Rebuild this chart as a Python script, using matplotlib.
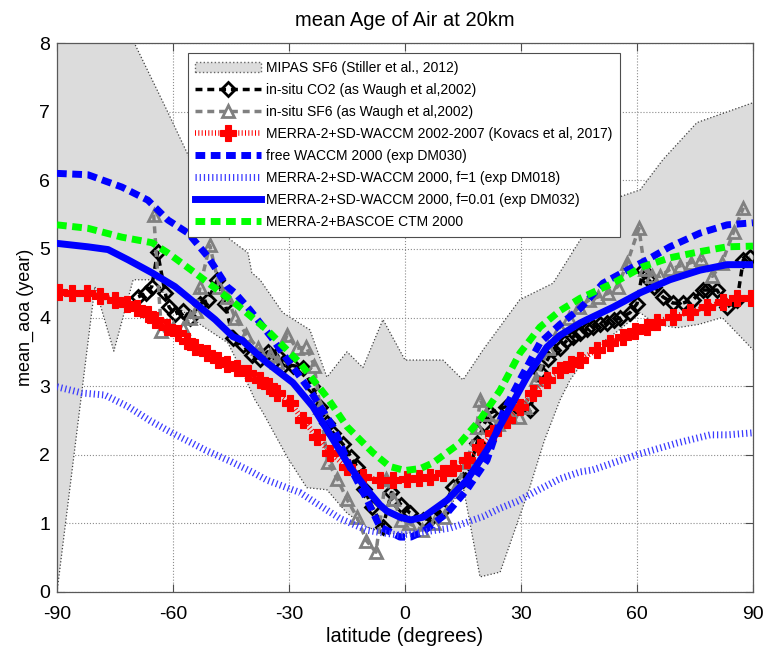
import numpy as np
import matplotlib
matplotlib.use('Agg')
import matplotlib.pyplot as plt
import matplotlib.patches as mpatches
from matplotlib.lines import Line2D

plt.rcParams['font.family'] = ['Liberation Sans', 'DejaVu Sans']
plt.rcParams['axes.unicode_minus'] = False

# MIPAS SF6 range (upper / lower envelope)
mipas_up_lat = [-90, -70, -62, -53, -46, -40.6, -39.6, -37.5, -31.6, -24.6, -20.2, -15,
                -10.9, -5.7, 0, 9.8, 15, 20.2, 29.7, 38.3, 45.3, 55.6, 60.8, 66.7, 75.5, 90]
mipas_up = [8.0, 8.0, 7.07, 6.0, 5.17, 4.94, 4.65, 4.55, 4.07, 3.82, 3.13, 3.5,
            3.27, 3.97, 3.38, 3.38, 3.09, 3.53, 4.26, 4.5, 5.13, 5.76, 5.86, 6.3, 6.84, 7.13]
mipas_lo_lat = [-90, -80.2, -75.3, -70.3, -65.4, -60, -53, -45.8, -42, -38.8, -36.7, -30.5,
                -25.4, -20.2, -15, -10, -5, 0, 5, 10, 15, 19.4, 24.6, 32.3, 36, 40.1,
                42.7, 46, 50, 55, 60.8, 65, 70.3, 76, 82, 90]
mipas_lo = [0, 4.45, 3.51, 4.55, 4.55, 4.2, 3.9, 3.63, 3.2, 2.8, 2.61, 1.97,
            1.52, 1.49, 1.15, 0.95, 0.85, 0.85, 0.9, 1.1, 1.55, 0.22, 0.29, 1.53, 2.2, 2.8,
            3.09, 3.35, 3.6, 3.8, 4.07, 3.9, 3.85, 3.9, 4.0, 3.53]

# in-situ CO2
co2_lat = [-69, -67, -65.5, -64, -62, -61, -59.5, -57.5, -55.5, -53, -51, -48.5, -46.5,
           -44.5, -42, -39.5, -37.5, -35.5, -33, -31.5, -29, -26.5, -24, -22, -20.2, -18.6,
           -16, -14, -12.4, -10.5, -8.5, -5.7, -3.5, -1, 1.3, 4.7, 7, 9.8, 12.4, 15, 17,
           18.6, 20.5, 22, 26, 29, 32.3, 34.9, 37, 38.3, 40.1, 41.9, 43.5, 45.3, 47, 48.6,
           50.5, 52.2, 54, 55.6, 58.2, 60, 61.5, 63, 64.5, 66.7, 69.3, 71.9, 74.5, 77, 78.1,
           80.7, 83.3, 85.9, 87.5, 89.2]
co2 = [4.3, 4.35, 4.45, 4.95, 4.35, 4.15, 4.05, 4.1, 4.0, 4.2, 4.25, 4.55, 4.2,
       3.7, 3.6, 3.45, 3.4, 3.5, 3.45, 3.3, 3.3, 3.27, 3.0, 2.7, 2.46, 2.32,
       2.15, 1.97, 1.82, 1.5, 1.24, 0.95, 1.45, 1.27, 1.15, 1.05, 1.09, 1.2, 1.53, 1.63, 1.85,
       2.17, 2.45, 2.61, 2.7, 2.7, 2.65, 3.2, 3.4, 3.53, 3.55, 3.67, 3.72, 3.78, 3.83, 3.86,
       3.9, 3.92, 3.96, 3.99, 4.07, 4.2, 4.69, 4.55, 4.45, 4.3, 4.21, 4.21, 4.26, 4.4, 4.4,
       4.4, 4.15, 4.26, 4.84, 4.88]

# in-situ SF6
sf6_lat = [-65, -63, -60, -57.5, -55.5, -54, -53, -50.5, -48, -46, -44, -41, -38, -35, -33,
           -30.5, -28, -25.5, -23.5, -22, -20, -17.5, -15, -12.5, -10, -7.5, -5, -3, -1, 1,
           4.5, 7.5, 10, 13, 16, 18.5, 19.5, 21, 24, 27, 29.5, 31, 34, 37, 40, 42.5, 45,
           47.5, 50, 52.5, 55, 57.5, 60.5, 62, 64, 66, 68.5, 71, 74, 76.5, 79.5, 82, 85, 87.5]
sf6 = [5.5, 3.8, 3.85, 3.85, 4.0, 4.1, 4.45, 5.05, 4.45, 4.3, 4.0, 3.75, 3.55, 3.45, 3.35,
       3.75, 3.55, 3.57, 3.3, 2.7, 1.9, 1.65, 1.35, 1.1, 0.75, 0.58, 1.65, 1.35, 1.05, 1.0,
       0.9, 1.0, 1.1, 1.5, 1.9, 2.4, 2.8, 2.6, 2.45, 2.6, 2.55, 2.7, 3.1, 3.55, 3.85, 4.0, 4.15,
       4.25, 4.3, 4.35, 4.45, 4.8, 5.3, 4.7, 4.6, 4.6, 4.7, 4.75, 4.8, 4.85, 4.6, 4.8, 5.25, 5.6]

# MERRA-2 + SD-WACCM 2002-2007 (Kovacs et al, 2017)
kov_lat = [-89.5, -86, -82.2, -78.9, -75, -72, -69.3, -66.5, -64.7, -61.6, -58.7, -56.5,
           -54.3, -51.2, -48.4, -46, -43.4, -40.6, -37.5, -35.3, -33.1, -29.7, -26.4, -22.8,
           -19.4, -15, -10.9, -6.5, -3.1, 0.5, 3.5, 6.5, 9.8, 12.4, 16, 19.4, 22.8, 26.4,
           29.7, 33.1, 36.7, 40.1, 43, 45.3, 49.6, 53, 56.4, 59.5, 62.6, 65.2, 69.3, 73.7,
           78.1, 82.2, 85.9, 89.5]
kov = [4.37, 4.36, 4.36, 4.31, 4.26, 4.2, 4.14, 4.05, 3.97, 3.86, 3.78, 3.66,
       3.57, 3.48, 3.38, 3.32, 3.27, 3.19, 3.09, 3.0, 2.9, 2.76, 2.51, 2.26,
       2.03, 1.82, 1.68, 1.63, 1.63, 1.65, 1.66, 1.68, 1.73, 1.81, 1.92, 2.11, 2.32, 2.51,
       2.7, 2.9, 3.09, 3.24, 3.32, 3.38, 3.53, 3.63, 3.72, 3.8, 3.86, 3.94, 4.01, 4.08,
       4.15, 4.23, 4.28, 4.28]

# free WACCM 2000 (DM030)
free_lat = [-90, -82, -73.2, -66.5, -61.3, -56.1, -50.9, -46, -44, -40.1, -34.4, -32.3,
            -24.6, -18.6, -14.2, -9.8, -6.5, -4.7, -1.3, 1.5, 4.7, 10.9, 16, 21.2, 25.3,
            29.7, 34.9, 40.1, 45.3, 51.2, 57.4, 62.6, 68.5, 76.3, 83.3, 90]
free = [6.1, 6.08, 5.9, 5.71, 5.42, 5.23, 4.88, 4.45, 4.36, 4.11, 3.7, 3.53,
        2.94, 2.41, 1.82, 1.34, 0.95, 0.9, 0.8, 0.8, 0.88, 1.15, 1.49, 1.92, 2.61,
        3.09, 3.63, 3.9, 4.13, 4.5, 4.69, 4.84, 5.03, 5.23, 5.35, 5.38]

# MERRA-2 + SD-WACCM 2000, f=1 (DM018)
f1_lat = [-90, -83.5, -77.6, -71.6, -66, -60.3, -51.7, -45, -39.6, -35.7, -27.2, -16.8,
          -9.8, -5.7, -1.3, 3.1, 11.6, 14.2, 20.2, 24.6, 29, 34.9, 40.1, 45.3, 48.6, 60,
          70.3, 78.9, 83.3, 90]
f1 = [2.99, 2.9, 2.87, 2.7, 2.5, 2.32, 2.07, 1.9, 1.75, 1.63, 1.45, 1.07,
      0.9, 0.86, 0.83, 0.86, 0.93, 0.98, 1.1, 1.22, 1.32, 1.5, 1.65, 1.75, 1.78, 2.0,
      2.17, 2.29, 2.29, 2.32]

# MERRA-2 + SD-WACCM 2000, f=0.01 (DM032)
f001_lat = [-90, -82, -76.8, -71.6, -65.4, -59.5, -54.3, -49.1, -44.5, -42.2, -35.7, -29,
            -23.8, -18.6, -14.2, -9.8, -6.5, -4.7, -1.3, 1.5, 4.7, 10.9, 16, 21.2, 26.4,
            31.5, 36.7, 40.1, 45.3, 47.1, 53.8, 60.8, 68.5, 76.3, 83.3, 90]
f001 = [5.08, 5.03, 4.99, 4.84, 4.65, 4.45, 4.21, 3.97, 3.72, 3.67, 3.34, 3.05,
        2.7, 2.22, 1.82, 1.49, 1.27, 1.18, 1.09, 1.05, 1.09, 1.34, 1.63, 2.07, 2.61,
        3.13, 3.57, 3.74, 3.92, 3.97, 4.15, 4.36, 4.55, 4.69, 4.77, 4.77]

# MERRA-2 + BASCOE CTM 2000
bas_lat = [-90, -82, -73.2, -65.4, -61.3, -54.3, -49.6, -42.7, -35.7, -27.2, -20.2, -15,
           -8.3, -4, 0, 4, 7.2, 14.2, 19.4, 24.6, 29.7, 34.9, 40.1, 45.3, 53.8, 61.5,
           68.5, 76.3, 83.3, 90]
bas = [5.35, 5.3, 5.17, 5.09, 4.94, 4.65, 4.45, 4.15, 3.82, 3.34, 2.84, 2.41,
       2.03, 1.83, 1.77, 1.8, 1.88, 2.17, 2.51, 2.94, 3.48, 3.86, 4.1, 4.28, 4.5, 4.74,
       4.87, 4.96, 5.03, 5.04]

fig = plt.figure(figsize=(7.64, 6.55), dpi=100)
ax = fig.add_axes([57 / 764, 63 / 655, 696 / 764, 549 / 655])

# MIPAS envelope: put both edges on one latitude grid so it can be filled
grid = np.union1d(mipas_up_lat, mipas_lo_lat)
top = np.interp(grid, mipas_up_lat, mipas_up)
bot = np.interp(grid, mipas_lo_lat, mipas_lo)
ax.fill_between(grid, bot, top, facecolor='#dcdcdc', edgecolor='none', zorder=1)
ax.plot(grid, top, color='0.25', ls=':', lw=0.9, zorder=1.5)
ax.plot(grid, bot, color='0.25', ls=':', lw=0.9, zorder=1.5)

dash = (0, (1.4, 0.8))
fine = (0, (0.18, 0.42))
mdash = (0, (2, 1.4))

ax.plot(co2_lat, co2, color='k', ls=mdash, lw=2.5, marker='D', ms=7.5,
        mfc='none', mec='k', mew=2, zorder=3)
ax.plot(sf6_lat, sf6, color='0.5', ls=mdash, lw=2.5, marker='^', ms=8,
        mfc='none', mec='0.5', mew=2, zorder=3)
ax.plot(kov_lat, kov, color='#ff0000', ls=fine, lw=4, zorder=3)
ax.plot(kov_lat, kov, color='#ff0000', ls='none', marker='P', ms=11, mew=0.8,
        mec='#ff0000', zorder=3)
ax.plot(free_lat, free, color='#0000ff', ls=dash, lw=5, zorder=4)
ax.plot(f1_lat, f1, color='#3a3aff', ls=fine, lw=5, zorder=4)
ax.plot(f001_lat, f001, color='#0000ff', ls='-', lw=5, zorder=4)
ax.plot(bas_lat, bas, color='#00ff00', ls=dash, lw=5, zorder=4)

ax.set_xlim(-90, 90)
ax.set_ylim(0, 8)
ax.set_xticks(np.arange(-90, 91, 30))
ax.set_yticks(np.arange(0, 9, 1))
ax.grid(True, ls=':', color='0.55', lw=0.8)
ax.set_axisbelow(True)
ax.tick_params(direction='in', top=True, right=True, length=6, width=0.8,
               color='0.3', labelsize=14)
ax.tick_params(axis='x', pad=10)
ax.tick_params(axis='y', pad=5)
for s in ax.spines.values():
    s.set_color('0.35')
    s.set_linewidth(0.9)

ax.set_title('mean Age of Air at 20km', fontsize=14.5, pad=12)
ax.set_xlabel('latitude (degrees)', fontsize=14.5, labelpad=3)
ax.set_ylabel('mean_aoa (year)', fontsize=13, labelpad=4)

handles = [
    mpatches.Patch(facecolor='#dcdcdc', edgecolor='0.4', ls=':', lw=1),
    Line2D([], [], color='k', ls=mdash, lw=2.5, marker='D', ms=7.5, mfc='none', mew=2),
    Line2D([], [], color='0.5', ls=mdash, lw=2.5, marker='^', ms=8, mfc='none', mew=2),
    Line2D([], [], color='#ff0000', ls=fine, lw=4, marker='P', ms=11, mew=0.8,
           mec='#ff0000'),
    Line2D([], [], color='#0000ff', ls=dash, lw=5),
    Line2D([], [], color='#3a3aff', ls=fine, lw=5),
    Line2D([], [], color='#0000ff', ls='-', lw=5),
    Line2D([], [], color='#00ff00', ls=dash, lw=5),
]
labels = [
    'MIPAS SF6 (Stiller et al., 2012)',
    'in-situ CO2 (as Waugh et al,2002)',
    'in-situ SF6 (as Waugh et al,2002)',
    'MERRA-2+SD-WACCM 2002-2007 (Kovacs et al, 2017)',
    'free WACCM 2000 (exp DM030)',
    'MERRA-2+SD-WACCM 2000, f=1 (exp DM018)',
    'MERRA-2+SD-WACCM 2000, f=0.01 (exp DM032)',
    'MERRA-2+BASCOE CTM 2000',
]
leg = ax.legend(handles, labels, loc='upper left', bbox_to_anchor=(0.188, 0.982),
                borderaxespad=0, fontsize=10, fancybox=False, framealpha=1,
                edgecolor='0.3', handlelength=4.7, handletextpad=0.4,
                labelspacing=0.58, borderpad=0.55)
leg.get_frame().set_linewidth(0.8)
leg.set_zorder(10)

fig.savefig('out.png', dpi=100)
